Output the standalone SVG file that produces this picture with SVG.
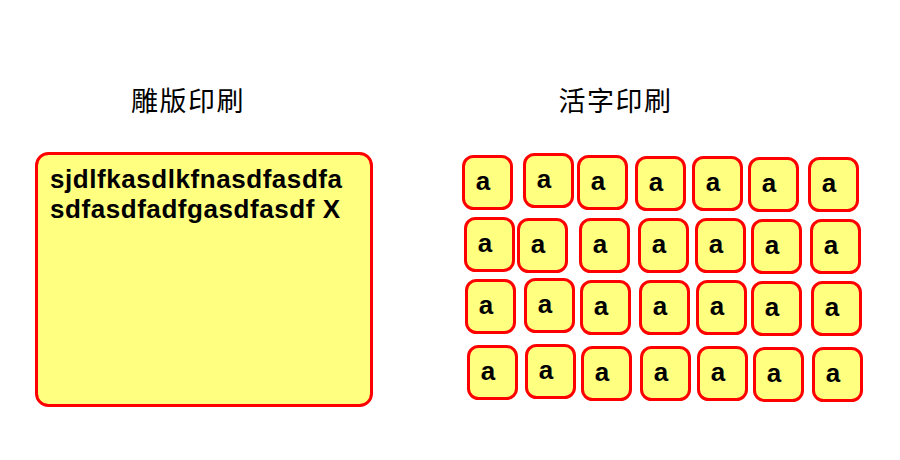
<svg xmlns="http://www.w3.org/2000/svg" width="900" height="460" viewBox="0 0 900 460">
<style>
.box{fill:#FFFF80;stroke:#FF0000;stroke-width:3}
.title{font-family:"Noto Sans CJK SC","Noto Sans CJK TC",sans-serif;font-size:27px;fill:#000;letter-spacing:1.5px}
.body{font-family:"Liberation Sans",Arial,sans-serif;font-weight:bold;font-size:26px;fill:#000}
.ch{font-family:"Liberation Sans",Arial,sans-serif;font-weight:bold;font-size:26px;fill:#000;text-anchor:middle}
</style>
<rect width="900" height="460" fill="#FFFFFF"/>
<g id="title-left"><text class="title" x="131" y="111">雕版印刷</text></g>
<g id="title-right"><text class="title" x="558.5" y="111">活字印刷</text></g>
<g id="block">
<rect class="box" x="36.5" y="153.5" width="335" height="252" rx="12"/>
<text class="body" x="50" y="188" textLength="292" lengthAdjust="spacing">sjdlfkasdlkfnasdfasdfa</text>
<text class="body" x="50" y="218" textLength="290" lengthAdjust="spacing">sdfasdfadfgasdfasdf X</text>
</g>
<g id="types">
<g id="t11"><rect class="box" x="463.5" y="156.5" width="48" height="52" rx="10"/><text class="ch" x="483" y="190">a</text></g>
<g id="t12"><rect class="box" x="524.5" y="154.5" width="48" height="52" rx="10"/><text class="ch" x="544" y="188">a</text></g>
<g id="t13"><rect class="box" x="578.5" y="156.5" width="48" height="52" rx="10"/><text class="ch" x="598" y="190">a</text></g>
<g id="t14"><rect class="box" x="636.5" y="157.5" width="48" height="52" rx="10"/><text class="ch" x="656" y="191">a</text></g>
<g id="t15"><rect class="box" x="693.5" y="157.5" width="48" height="52" rx="10"/><text class="ch" x="713" y="191">a</text></g>
<g id="t16"><rect class="box" x="749.5" y="158.5" width="48" height="52" rx="10"/><text class="ch" x="769" y="192">a</text></g>
<g id="t17"><rect class="box" x="809.5" y="158.5" width="48" height="52" rx="10"/><text class="ch" x="829" y="192">a</text></g>

<g id="t21"><rect class="box" x="465.5" y="218.5" width="48" height="52" rx="10"/><text class="ch" x="485" y="252">a</text></g>
<g id="t22"><rect class="box" x="518.5" y="219.5" width="48" height="52" rx="10"/><text class="ch" x="538" y="253">a</text></g>
<g id="t23"><rect class="box" x="580.5" y="219.5" width="48" height="52" rx="10"/><text class="ch" x="600" y="253">a</text></g>
<g id="t24"><rect class="box" x="639.5" y="219.5" width="48" height="52" rx="10"/><text class="ch" x="659" y="253">a</text></g>
<g id="t25"><rect class="box" x="696.5" y="219.5" width="48" height="52" rx="10"/><text class="ch" x="716" y="253">a</text></g>
<g id="t26"><rect class="box" x="752.5" y="220.5" width="48" height="52" rx="10"/><text class="ch" x="772" y="254">a</text></g>
<g id="t27"><rect class="box" x="811.5" y="220.5" width="48" height="52" rx="10"/><text class="ch" x="831" y="254">a</text></g>

<g id="t31"><rect class="box" x="466.5" y="280.5" width="48" height="52" rx="10"/><text class="ch" x="486" y="314">a</text></g>
<g id="t32"><rect class="box" x="525.5" y="279.5" width="48" height="52" rx="10"/><text class="ch" x="545" y="313">a</text></g>
<g id="t33"><rect class="box" x="581.5" y="281.5" width="48" height="52" rx="10"/><text class="ch" x="601" y="315">a</text></g>
<g id="t34"><rect class="box" x="640.5" y="281.5" width="48" height="52" rx="10"/><text class="ch" x="660" y="315">a</text></g>
<g id="t35"><rect class="box" x="697.5" y="281.5" width="48" height="52" rx="10"/><text class="ch" x="717" y="315">a</text></g>
<g id="t36"><rect class="box" x="752.5" y="282.5" width="48" height="52" rx="10"/><text class="ch" x="772" y="316">a</text></g>
<g id="t37"><rect class="box" x="812.5" y="282.5" width="48" height="52" rx="10"/><text class="ch" x="832" y="316">a</text></g>

<g id="t41"><rect class="box" x="468.5" y="346.5" width="48" height="52" rx="10"/><text class="ch" x="488" y="380">a</text></g>
<g id="t42"><rect class="box" x="526.5" y="345.5" width="48" height="52" rx="10"/><text class="ch" x="546" y="379">a</text></g>
<g id="t43"><rect class="box" x="582.5" y="347.5" width="48" height="52" rx="10"/><text class="ch" x="602" y="381">a</text></g>
<g id="t44"><rect class="box" x="641.5" y="347.5" width="48" height="52" rx="10"/><text class="ch" x="661" y="381">a</text></g>
<g id="t45"><rect class="box" x="698.5" y="347.5" width="48" height="52" rx="10"/><text class="ch" x="718" y="381">a</text></g>
<g id="t46"><rect class="box" x="754.5" y="348.5" width="48" height="52" rx="10"/><text class="ch" x="774" y="382">a</text></g>
<g id="t47"><rect class="box" x="813.5" y="348.5" width="48" height="52" rx="10"/><text class="ch" x="833" y="382">a</text></g>
</g>
<g id="connectors"/>
</svg>
